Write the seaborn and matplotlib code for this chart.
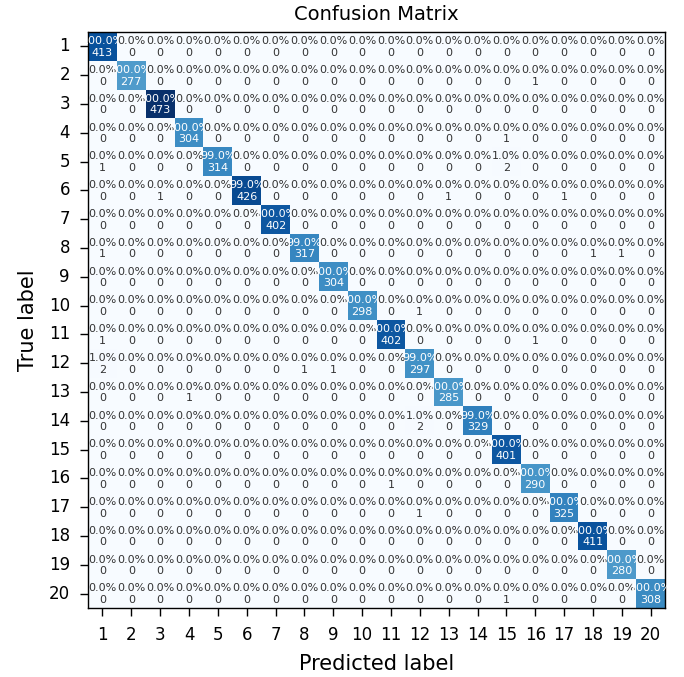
import numpy as np
import pandas as pd
import matplotlib
matplotlib.use("Agg")
import matplotlib.pyplot as plt
import seaborn as sns

# class labels 1..20
labels = [str(i) for i in range(1, 21)]

# correct predictions (diagonal)
diag_counts = [413, 277, 473, 304, 314, 426, 402, 317, 304, 298,
               402, 297, 285, 329, 401, 290, 325, 411, 280, 308]

# misclassifications: (true label, predicted label, count)
off_true = [2, 4, 5, 5, 6, 6, 6, 8, 8, 8, 10, 11, 11, 12, 12, 12, 13, 14, 16, 17, 20]
off_pred = [16, 15, 1, 15, 3, 13, 17, 1, 18, 19, 12, 1, 16, 1, 8, 9, 4, 12, 11, 12, 15]
off_count = [1, 1, 1, 2, 1, 1, 1, 1, 1, 1, 1, 1, 1, 2, 1, 1, 1, 2, 1, 1, 1]

n = len(labels)
cm = np.zeros((n, n), dtype=int)
cm[np.arange(n), np.arange(n)] = diag_counts
for t, p, c in zip(off_true, off_pred, off_count):
    cm[t - 1, p - 1] = c

# row-normalised percentages, rounded to whole percent
pct = np.round(cm / cm.sum(axis=1, keepdims=True) * 100)

df = pd.DataFrame(cm, index=labels, columns=labels)

fig = plt.figure(figsize=(6.84, 6.77), dpi=100)
ax = fig.add_axes([0.1287, 0.1019, 0.8436, 0.8508])
sns.heatmap(df, cmap="Blues", cbar=False, ax=ax, vmin=0, vmax=cm.max())

thresh = cm.max() / 2
for i in range(n):
    for j in range(n):
        color = "white" if cm[i, j] > thresh else "#333333"
        ax.text(j + 0.5, i + 0.52, f"{pct[i, j]:.1f}%\n{cm[i, j]}",
                ha="center", va="center", fontsize=8, color=color,
                linespacing=1.2)

for s in ax.spines.values():
    s.set_visible(True)
    s.set_color("black")
    s.set_linewidth(1.0)

ax.tick_params(axis="both", length=6, width=1, labelsize=12, pad=7)
ax.set_xticklabels(labels, rotation=0)
ax.set_yticklabels(labels, rotation=0)
ax.set_title("Confusion Matrix", fontsize=14, pad=9)
ax.set_xlabel("Predicted label", fontsize=15, labelpad=7)
ax.set_ylabel("True label", fontsize=15, labelpad=8)

fig.savefig("out.png", dpi=100)
